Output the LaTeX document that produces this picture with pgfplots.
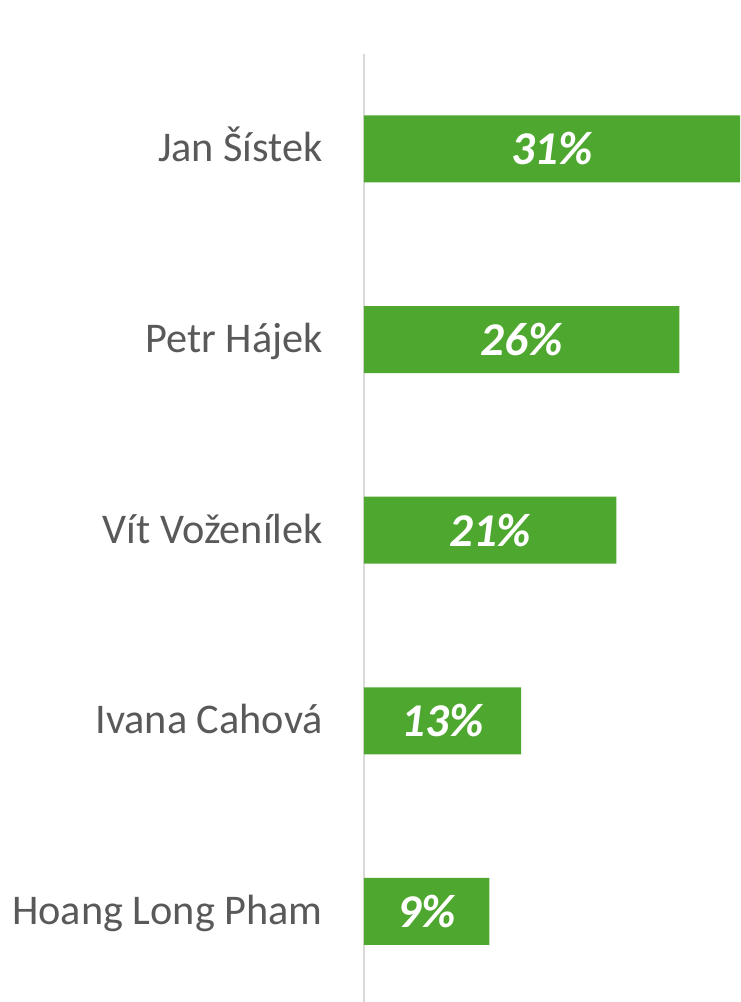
\documentclass[border=0pt]{standalone}
\usepackage{pgfplots}
\pgfplotsset{compat=1.18}
\usepackage{pgfplotstable}
\usepackage{fontspec}
\setmainfont{Carlito}
\definecolor{bargreen}{RGB}{78,167,46}
\definecolor{labgray}{RGB}{89,89,89}
\definecolor{axgray}{RGB}{217,217,217}
\pgfplotstableread{
y v lab
0 10.33 9\%
1 12.95 13\%
2 20.8 21\%
3 26 26\%
4 31 31\%
}\datatab
\begin{document}
\begin{tikzpicture}
\path[use as bounding box] (0,0) rectangle (741pt,1002pt);
\begin{axis}[
  at={(364pt,-4.7pt)}, anchor=south west,
  scale only axis, width=377pt, height=953pt,
  xmin=0, xmax=31.07, ymin=-0.5, ymax=4.5,
  axis x line=none,
  axis y line*=left,
  y axis line style={draw=axgray, line width=1.3pt, -},
  ytick={0,1,2,3,4},
  yticklabels={Hoang Long Pham, Ivana Cahová, Vít Voženílek, Petr Hájek, Jan Šístek},
  ytick style={draw=none},
  yticklabel style={font=\fontsize{42.3}{48}\selectfont, text=labgray, inner sep=0pt, anchor=base east, xshift=-41pt, yshift=-13pt},
  clip=false,
]
\addplot[xbar, bar width=67pt, bar shift=0pt, fill=bargreen, draw=none] table[x=v, y=y] {\datatab};
\addplot[draw=none, mark=none, nodes near coords, point meta=explicit symbolic,
  every node near coord/.append style={anchor=base, inner sep=0pt, text=white, font=\fontsize{47}{52}\selectfont\bfseries\itshape, yshift=-16pt}]
  table[x expr=\thisrow{v}/2, y=y, meta=lab] {\datatab};
\end{axis}
\end{tikzpicture}
\end{document}
